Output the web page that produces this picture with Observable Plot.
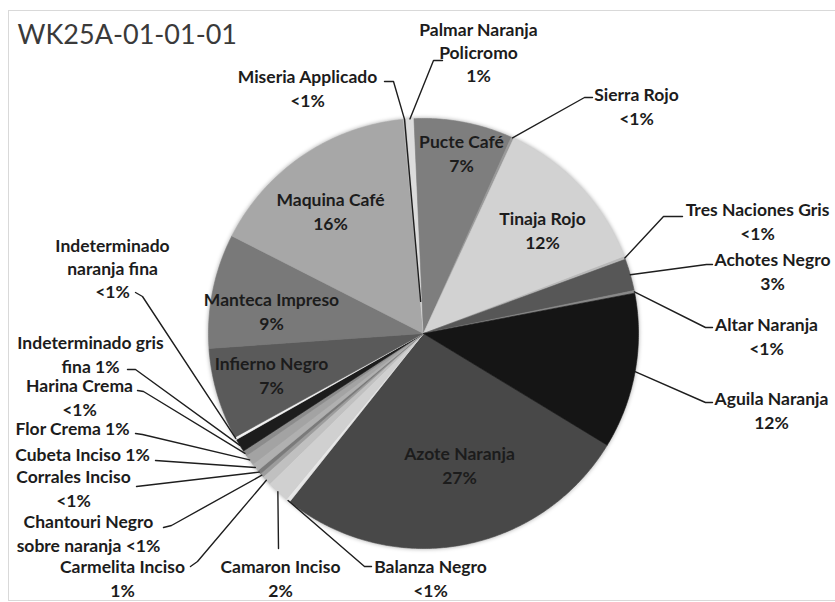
<!DOCTYPE html>
<html>
<head>
<meta charset="utf-8">
<script src="https://cdn.jsdelivr.net/npm/d3@7"></script>
<script src="https://cdn.jsdelivr.net/npm/@observablehq/plot@0.6"></script>
<style>
  html, body { margin: 0; padding: 0; background: #ffffff; }
  #frame { position: absolute; left: 8px; top: 10px; width: 900px; height: 589px; border: 1px solid #d9d9d9; }
  #chart { position: absolute; left: 0; top: 0; }
</style>
</head>
<body>
<div id="frame"></div>
<div id="chart"></div>
<script>
// ---- data ----
const titleText = "WK25A-01-01-01";
const categories = [
  "Azote Naranja", "Balanza Negro", "Camaron Inciso", "Carmelita Inciso",
  "Chantouri Negro sobre naranja", "Corrales Inciso", "Cubeta Inciso", "Flor Crema",
  "Harina Crema", "Indeterminado gris fina", "Indeterminado naranja fina", "Infierno Negro",
  "Manteca Impreso", "Maquina Café", "Miseria Applicado", "Palmar Naranja Policromo",
  "Pucte Café", "Sierra Rojo", "Tinaja Rojo", "Tres Naciones Gris",
  "Achotes Negro", "Altar Naranja", "Aguila Naranja"
];
const values = [
  27.0, 0.3, 1.7, 0.7,
  0.3, 0.3, 0.6, 0.8,
  0.4, 1.0, 0.2, 6.9,
  8.6, 16.0, 0.2, 0.6,
  7.4, 0.2, 12.3, 0.2,
  2.4, 0.2, 11.7
];
const percentLabels = [
  "27%", "<1%", "2%", "1%",
  "<1%", "<1%", "1%", "1%",
  "<1%", "1%", "<1%", "7%",
  "9%", "16%", "<1%", "1%",
  "7%", "<1%", "12%", "<1%",
  "3%", "<1%", "12%"
];

// ---- styles / layout ----
const shades = [
  "#484848", "#e6e6e6", "#d0d0d0", "#c0c0c0",
  "#9c9c9c", "#7a7a7a", "#b0b0b0", "#a3a3a3",
  "#8c8c8c", "#1c1c1c", "#f2f2f2", "#5a5a5a",
  "#797979", "#a7a7a7", "#bdbdbd", "#dcdcdc",
  "#7e7e7e", "#9a9a9a", "#d2d2d2", "#b8b8b8",
  "#575757", "#8a8a8a", "#151515"
];
const W = 835, H = 602;
const cx = 423, cy = 333, R = 215;
const startDeg = 121.3;

// label layout: block centre, line breaks (word indices), leader points from the label toward the slice
const labelLayout = [
  {x: 459, y: 464},
  {x: 430, y: 577, leader: [[371, 566], [364, 566]]},
  {x: 280, y: 577, leader: [[278, 548]]},
  {x: 122, y: 577, leader: [[190, 566], [197, 561]]},
  {x: 88,  y: 532, breaks: [2], leader: [[163, 527], [171, 525]]},
  {x: 73,  y: 487, leader: [[136, 486]]},
  {x: 82,  y: 453, breaks: [], leader: [[155, 460]]},
  {x: 72,  y: 427, breaks: [], leader: [[135, 433], [142, 434]]},
  {x: 79,  y: 396, leader: [[137, 390], [143, 391]]},
  {x: 90,  y: 353, breaks: [2], leader: [[127, 369], [135, 369]]},
  {x: 112, y: 267, breaks: [1, 3], leader: [[135, 292], [142, 296]]},
  {x: 271, y: 374},
  {x: 271, y: 310},
  {x: 330, y: 210},
  {x: 307, y: 87, leader: [[384, 81], [393, 81]], inner: 0.15},
  {x: 478, y: 51, breaks: [2, 3], leader: [[442, 60], [433, 60]]},
  {x: 461, y: 152},
  {x: 636, y: 105, leader: [[592, 97], [584, 97]]},
  {x: 542, y: 229},
  {x: 757, y: 220, leader: [[682, 216], [663, 216]]},
  {x: 772, y: 270, leader: [[712, 264], [706, 264]]},
  {x: 766, y: 335, leader: [[712, 327], [705, 327]]},
  {x: 771, y: 409, leader: [[712, 402], [705, 402]]}
];

// ---- build geometry from the data ----
const a0 = startDeg * Math.PI / 180;
const arcs = d3.pie().sort(null).value(d => d).startAngle(a0).endAngle(a0 + 2 * Math.PI)(values);
const px = (a, r) => cx + r * Math.sin(a);
const py = (a, r) => cy - r * Math.cos(a);

const sliceRows = [];
arcs.forEach((arc, i) => {
  const n = Math.max(2, Math.ceil((arc.endAngle - arc.startAngle) / (0.5 * Math.PI / 180)));
  sliceRows.push({slice: i, x: cx, y: cy, color: shades[i]});
  for (let k = 0; k <= n; k++) {
    const a = arc.startAngle + (arc.endAngle - arc.startAngle) * k / n;
    sliceRows.push({slice: i, x: px(a, R), y: py(a, R), color: shades[i]});
  }
  sliceRows.push({slice: i, x: cx, y: cy, color: shades[i]});
});

const labelRows = categories.map((c, i) => {
  const words = (c + " " + percentLabels[i]).split(" ");
  const L = labelLayout[i];
  const br = L.breaks ?? [words.length - 1];
  let lines = [], cur = [];
  words.forEach((w, k) => {
    if (br.includes(k) && cur.length) { lines.push(cur.join(" ")); cur = []; }
    cur.push(w);
  });
  lines.push(cur.join(" "));
  return {x: L.x, y: L.y, text: lines.join("\n")};
});

const leaderRows = [];
arcs.forEach((arc, i) => {
  const L = labelLayout[i];
  if (!L.leader) return;
  const mid = (arc.startAngle + arc.endAngle) / 2;
  L.leader.forEach(([x, y]) => leaderRows.push({id: i, x, y}));
  leaderRows.push({id: i, x: px(mid, R), y: py(mid, R)});
  if (L.inner) leaderRows.push({id: i, x: px(mid, R * L.inner), y: py(mid, R * L.inner)});
});

const fontLabel = "Lato, 'Open Sans', sans-serif";

const chart = Plot.plot({
  width: W,
  height: H,
  margin: 0,
  style: {background: "transparent", overflow: "visible"},
  x: {domain: [0, W], range: [0, W], axis: null},
  y: {domain: [0, H], range: [0, H], axis: null},
  color: {type: "identity"},
  marks: [
    Plot.line(sliceRows, {x: "x", y: "y", z: "slice", fill: "color", stroke: "color", strokeWidth: 0.6, curve: "linear"}),
    Plot.line(leaderRows, {x: "x", y: "y", z: "id", stroke: "#1e1e1e", strokeWidth: 1.4, curve: "linear"}),
    Plot.text(labelRows, {
      x: "x", y: "y", text: "text",
      fontFamily: fontLabel, fontWeight: "bold", fontSize: 17.5,
      lineHeight: 1.34, lineAnchor: "middle", textAnchor: "middle", fill: "#1c1c1c"
    }),
    Plot.text([titleText], {
      x: () => 17, y: () => 35, text: d => d,
      fontFamily: fontLabel, fontSize: 27, textAnchor: "start", lineAnchor: "middle", fill: "#3a3a3a"
    })
  ]
});

d3.select(chart).select('g[aria-label="line"]')
  .style("filter", "drop-shadow(0px 0px 2px rgba(0,0,0,0.35))");

document.getElementById("chart").appendChild(chart);
</script>
</body>
</html>
